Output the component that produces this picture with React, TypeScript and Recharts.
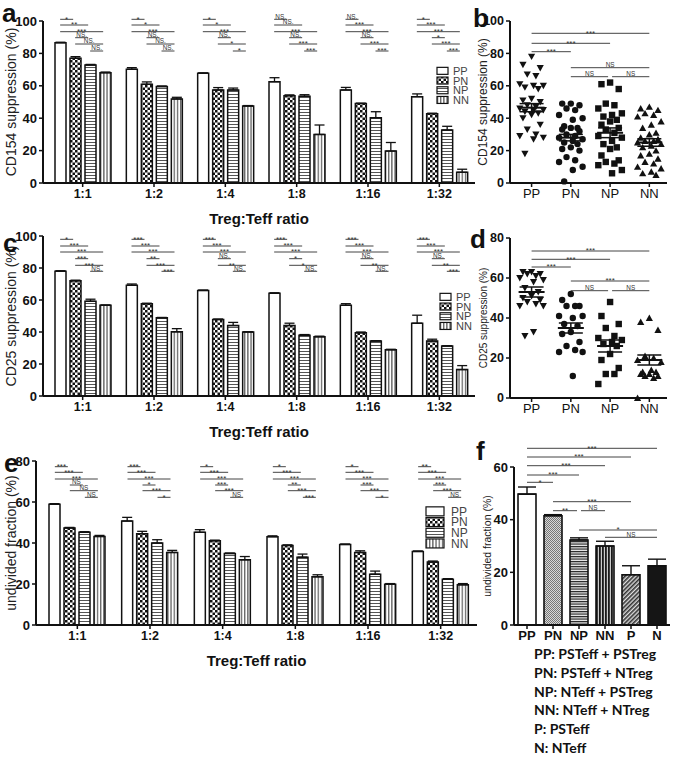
import React from 'react';
import {
  BarChart,
  Bar,
  XAxis,
  YAxis,
  ErrorBar,
  ScatterChart,
  Scatter,
  Legend,
  Cell,
} from 'recharts';

const FONT = '"Liberation Sans", Arial, sans-serif';

const ratios = ['1:1', '1:2', '1:4', '1:8', '1:16', '1:32'];
const groupNames = ['PP', 'PN', 'NP', 'NN'];

// a: CD154 suppression (%) by Treg:Teff ratio
const cd154PP = [86.6, 70.2, 67.7, 62.5, 57.4, 53.3];
const cd154PN = [77, 60.9, 57.4, 53.9, 49, 42.8];
const cd154NP = [72.8, 59.5, 57.4, 53.5, 40.3, 32.7];
const cd154NN = [68.1, 51.9, 47.5, 30, 19.7, 6.6];
const cd154PPErr = [0.3, 1, 0.3, 2.5, 1.6, 1.7];
const cd154PNErr = [1, 1.5, 1.5, 0.5, 0.3, 0.3];
const cd154NPErr = [0.4, 0.4, 1.2, 1, 3.7, 2.3];
const cd154NNErr = [0.4, 1, 0.3, 5.8, 5.3, 1.9];

// c: CD25 suppression (%)
const cd25PP = [78, 69.2, 66, 64.2, 56.7, 45.5];
const cd25PN = [72, 57.6, 47.8, 44, 39.5, 34.3];
const cd25NP = [59.2, 48.9, 44, 38, 34.3, 31.2];
const cd25NN = [56.7, 40.1, 40, 37, 28.9, 16.5];
const cd25PPErr = [0.3, 0.8, 0.2, 0.3, 1, 5];
const cd25PNErr = [0.4, 0.4, 0.3, 1.5, 0.5, 1.2];
const cd25NPErr = [1.3, 0.2, 2, 0.4, 0.3, 0.2];
const cd25NNErr = [0.2, 2, 0.2, 0.4, 0.3, 2.5];

// e: undivided fraction (%)
const undivPP = [58.9, 50.7, 45.2, 43.1, 39.3, 35.9];
const undivPN = [47.3, 44.5, 41.1, 38.8, 35.4, 30.7];
const undivNP = [45.2, 40, 34.9, 33.1, 24.8, 22.3];
const undivNN = [43.2, 35.4, 31.8, 23.5, 19.9, 19.6];
const undivPPErr = [0.3, 1.8, 1.3, 0.4, 0.2, 0.2];
const undivPNErr = [0.3, 1.2, 0.3, 0.3, 0.8, 0.5];
const undivNPErr = [0.3, 1.6, 0.2, 1.5, 1.5, 0.3];
const undivNNErr = [0.5, 1, 1.6, 1, 0.3, 0.6];

// b: CD154 suppression, individual donors
const bPP = [78, 73, 71, 67, 66, 61, 60, 60, 59, 58, 52, 51, 50, 48, 47, 46, 45, 45, 44, 43, 42, 40, 36, 33, 30, 29, 28, 27, 18];
const bPN = [49, 49, 48, 46, 45, 42, 40, 39, 35, 34, 34, 33, 32, 30, 29, 28, 27, 26, 25, 24, 22, 21, 20, 16, 14, 13, 10, 8, 1];
const bNP = [62, 61, 58, 49, 48, 46, 43, 42, 41, 39, 38, 36, 34, 33, 31, 29, 28, 26, 24, 22, 21, 17, 14, 13, 12, 11, 8, 6];
const bNN = [47, 46, 45, 43, 42, 41, 38, 36, 34, 31, 30, 28, 27, 26, 26, 25, 24, 23, 22, 20, 18, 17, 15, 13, 12, 10, 9, 7, 6, 5];
const bMeans = [46.5, 28, 31, 25];
const bSems = [2.5, 2, 3, 2.3];

// d: CD25 suppression, individual donors
const dPP = [63, 63, 62, 62, 61, 60, 59, 58, 55, 53, 51, 50, 49, 48, 47, 46, 46, 33, 31];
const dPN = [52, 49, 46, 46, 46, 41, 41, 40, 37, 36, 33, 32, 28, 26, 24, 23, 23, 11];
const dNP = [48, 41, 37, 35, 31, 30, 29, 28, 27, 26, 22, 19, 15, 12, 12, 7];
const dNN = [40, 38, 34, 21, 20, 19, 18, 14, 13, 13, 12, 12, 11, 11, 10, 0];
const dMeans = [53, 35, 26, 19];
const dSems = [2.5, 2.5, 3, 2.5];

// f: undivided fraction incl. Teff alone
const fCats = ['PP', 'PN', 'NP', 'NN', 'P', 'N'];
const fVals = [49.7, 41.5, 32.3, 30, 19.1, 22.5];
const fErr = [2.7, 0.4, 0.8, 1.8, 3.4, 2.5];
const fFills = ['#fff', 'url(#f-pn)', 'url(#f-np)', 'url(#f-nn)', 'url(#f-p)', '#151515'];

// significance labels, comparisons in order PP-PN, PP-NP, PP-NN, PN-NP, PN-NN, NP-NN
const sigA = [
  ['*', '**', '***', 'NS.', 'NS.', 'NS.'],
  ['*', '*', '***', 'NS.', 'NS.', 'NS.'],
  ['*', '*', '***', 'NS.', '*', '*'],
  ['NS.', 'NS.', '***', 'NS.', '***', '***'],
  ['NS.', '***', '***', 'NS.', '***', '***'],
  ['*', '***', '***', '*', '***', '***'],
];
const sigC = [
  ['*', '***', '***', '***', '***', 'NS.'],
  ['***', '***', '***', '**', '***', '***'],
  ['***', '***', '***', 'NS.', '**', 'NS.'],
  ['***', '***', '***', '*', '*', 'NS.'],
  ['***', '***', '***', 'NS.', '**', 'NS.'],
  ['***', '***', '***', 'NS.', '**', '***'],
];
const sigE = [
  ['***', '***', '***', 'NS', 'NS', 'NS'],
  ['***', '***', '***', '*', '***', '*'],
  ['*', '***', '***', '***', '***', 'NS'],
  ['*', '***', '***', '**', '***', '***'],
  ['*', '***', '***', '***', '***', '*'],
  ['**', '***', '***', '***', '***', 'NS'],
];
const sigB = [
  { i: 0, j: 3, row: 0, label: '***' },
  { i: 0, j: 2, row: 1, label: '***' },
  { i: 0, j: 1, row: 2, label: '***' },
  { i: 1, j: 3, row: 3, label: 'NS' },
  { i: 1, j: 2, row: 4, label: 'NS' },
  { i: 2, j: 3, row: 4, label: 'NS' },
];
const sigD = [
  { i: 0, j: 3, row: 0, label: '***' },
  { i: 0, j: 2, row: 1, label: '***' },
  { i: 0, j: 1, row: 2, label: '***' },
  { i: 1, j: 3, row: 3, label: '***' },
  { i: 1, j: 2, row: 4, label: 'NS' },
  { i: 2, j: 3, row: 4, label: 'NS' },
];
const sigF = [
  { i: 0, j: 5, row: 0, label: '***' },
  { i: 0, j: 4, row: 1, label: '***' },
  { i: 0, j: 3, row: 2, label: '***' },
  { i: 0, j: 2, row: 3, label: '***' },
  { i: 0, j: 1, row: 4, label: '*' },
  { i: 1, j: 4, row: 5, label: '***' },
  { i: 1, j: 2, row: 6, label: '**' },
  { i: 2, j: 3, row: 6, label: 'NS' },
  { i: 2, j: 5, row: 7, label: '*' },
  { i: 3, j: 5, row: 8, label: 'NS' },
];

const captionLines = [
  'PP: PSTeff + PSTreg',
  'PN: PSTeff + NTreg',
  'NP: NTeff + PSTreg',
  'NN: NTeff + NTreg',
  'P: PSTeff',
  'N: NTeff',
];

const pairIdx = [[0, 1], [0, 2], [0, 3], [1, 2], [1, 3], [2, 3]];
const jitter = [0, -0.22, 0.22, -0.11, 0.11, -0.3, 0.3, 0.05, -0.17, 0.17];
const axisStyle = { stroke: '#111', strokeWidth: 2 };

function toRows(vals: number[][], errs: number[][]) {
  return ratios.map((r, i) => {
    const row: any = { ratio: r };
    groupNames.forEach((g, k) => {
      row[g] = vals[k][i];
      row[g + 'e'] = [0, errs[k][i]];
    });
    return row;
  });
}

function PatternDefs() {
  return (
    <svg width={0} height={0} style={{ position: 'absolute' }}>
      <defs>
        <pattern id="p-pp" width={4} height={4} patternUnits="userSpaceOnUse">
          <rect width={4} height={4} fill="#fff" />
        </pattern>
        <pattern id="p-pn" width={5} height={5} patternUnits="userSpaceOnUse">
          <rect width={5} height={5} fill="#fff" />
          <rect width={2.5} height={2.5} fill="#111" />
          <rect x={2.5} y={2.5} width={2.5} height={2.5} fill="#111" />
        </pattern>
        <pattern id="p-np" width={4} height={3} patternUnits="userSpaceOnUse">
          <rect width={4} height={3} fill="#fff" />
          <rect y={1} width={4} height={1} fill="#555" />
        </pattern>
        <pattern id="p-nn" width={3.2} height={4} patternUnits="userSpaceOnUse">
          <rect width={3.2} height={4} fill="#fff" />
          <rect x={1} width={1} height={4} fill="#333" />
        </pattern>
        <pattern id="f-pn" width={2} height={2} patternUnits="userSpaceOnUse">
          <rect width={2} height={2} fill="#d8d8d8" />
          <rect width={1} height={1} fill="#777" />
          <rect x={1} y={1} width={1} height={1} fill="#777" />
        </pattern>
        <pattern id="f-np" width={4} height={2.5} patternUnits="userSpaceOnUse">
          <rect width={4} height={2.5} fill="#eee" />
          <rect width={4} height={1.2} fill="#222" />
        </pattern>
        <pattern id="f-nn" width={3} height={4} patternUnits="userSpaceOnUse">
          <rect width={3} height={4} fill="#ccc" />
          <rect width={1.8} height={4} fill="#1a1a1a" />
        </pattern>
        <pattern id="f-p" width={3} height={3} patternUnits="userSpaceOnUse" patternTransform="rotate(45)">
          <rect width={3} height={3} fill="#ddd" />
          <rect width={1.6} height={3} fill="#333" />
        </pattern>
      </defs>
    </svg>
  );
}

function PatternKey({ rowH, swW, swH, fontSize, gap }: any) {
  return (
    <svg width={48} height={rowH * 4} style={{ display: 'block' }}>
      {groupNames.map((g, k) => (
        <g key={g}>
          <rect
            x={1}
            y={k * rowH + (rowH - swH) / 2}
            width={swW}
            height={swH}
            fill={`url(#p-${g.toLowerCase()})`}
            stroke="#111"
            strokeWidth={1.2}
          />
          <text
            x={1 + swW + gap}
            y={k * rowH + rowH / 2 + fontSize * 0.36}
            fontSize={fontSize}
            fill="#444"
            fontFamily={FONT}
          >
            {g}
          </text>
        </g>
      ))}
    </svg>
  );
}

function GroupedBars({ rows, top, plotTop, plotH, yAxisW, padL, yMax, yTicks, yLabel, legend }: any) {
  const width = 480;
  const plotW = yAxisW === 43 ? 432 : 441;
  return (
    <div style={{ position: 'absolute', left: 0, top }}>
      <BarChart
        width={width}
        height={plotTop + plotH + 47}
        data={rows}
        margin={{ top: plotTop, right: width - yAxisW - plotW, left: 0, bottom: 0 }}
        barGap={4}
      >
        <XAxis
          dataKey="ratio"
          padding={{ left: padL, right: 0 }}
          height={47}
          axisLine={axisStyle}
          tickLine={{ stroke: '#111', strokeWidth: 1.5 }}
          tickSize={4}
          tick={{ fontSize: 12.5, fontWeight: 700, fill: '#111' }}
          label={{
            value: 'Treg:Teff ratio',
            position: 'insideBottom',
            offset: 6,
            style: { fontSize: 15, fontWeight: 700, fill: '#111' },
          }}
        />
        <YAxis
          type="number"
          domain={[0, yMax]}
          ticks={yTicks}
          width={yAxisW}
          axisLine={axisStyle}
          tickLine={{ stroke: '#111', strokeWidth: 1.5 }}
          tickSize={4}
          tick={{ fontSize: 13, fontWeight: 700, fill: '#111' }}
          label={{
            value: yLabel,
            angle: -90,
            position: 'insideLeft',
            offset: 11,
            style: { textAnchor: 'middle', fontSize: 14, fill: '#222' },
          }}
        />
        {groupNames.map((g) => (
          <Bar
            key={g}
            dataKey={g}
            barSize={11}
            fill={`url(#p-${g.toLowerCase()})`}
            stroke="#111"
            strokeWidth={1.5}
            isAnimationActive={false}
          >
            <ErrorBar dataKey={g + 'e'} width={5} stroke="#111" strokeWidth={1.3} direction="y" />
          </Bar>
        ))}
        <Legend
          layout="horizontal"
          verticalAlign="middle"
          align="center"
          wrapperStyle={{ position: 'absolute', left: legend.x, top: legend.y, width: 48 }}
          content={() => <PatternKey {...legend} />}
        />
      </BarChart>
    </div>
  );
}

const shapeDown = (p: any) => (
  <polygon points={`${p.cx - 3.6},${p.cy - 3} ${p.cx + 3.6},${p.cy - 3} ${p.cx},${p.cy + 3.4}`} fill="#111" />
);
const shapeCircle = (p: any) => <circle cx={p.cx} cy={p.cy} r={3.2} fill="#111" />;
const shapeSquare = (p: any) => <rect x={p.cx - 3.2} y={p.cy - 3.2} width={6.4} height={6.4} fill="#111" />;
const shapeUp = (p: any) => (
  <polygon points={`${p.cx - 3.6},${p.cy + 3} ${p.cx + 3.6},${p.cy + 3} ${p.cx},${p.cy - 3.4}`} fill="#111" />
);
const dotShapes = [shapeDown, shapeCircle, shapeSquare, shapeUp];
const meanShape = (p: any) => (
  <line x1={p.cx - 13} x2={p.cx + 13} y1={p.cy} y2={p.cy} stroke="#111" strokeWidth={2} />
);

function DotPanel({ top, plotH, yMax, yTicks, yLabel, labelSize, sets, means, sems }: any) {
  const series = sets.map((vals: number[], g: number) =>
    vals.map((v, k) => ({ x: g + 1 + jitter[k % jitter.length], y: v }))
  );
  const meanRows = means.map((m: number, g: number) => ({ x: g + 1, y: m, sem: sems[g] }));
  return (
    <div style={{ position: 'absolute', left: 470, top }}>
      <ScatterChart width={205} height={21 + plotH + 24} margin={{ top: 21, right: 8, left: 0, bottom: 0 }}>
        <XAxis
          type="number"
          dataKey="x"
          domain={[0.45, 4.45]}
          ticks={[1, 2, 3, 4]}
          tickFormatter={(v) => groupNames[Math.round(v) - 1]}
          height={24}
          axisLine={axisStyle}
          tickLine={{ stroke: '#111', strokeWidth: 1.5 }}
          tickSize={4}
          tick={{ fontSize: 13, fill: '#111' }}
        />
        <YAxis
          type="number"
          dataKey="y"
          domain={[0, yMax]}
          ticks={yTicks}
          width={40}
          axisLine={axisStyle}
          tickLine={{ stroke: '#111', strokeWidth: 1.5 }}
          tickSize={4}
          tick={{ fontSize: 12.5, fontWeight: 700, fill: '#111' }}
          label={{
            value: yLabel,
            angle: -90,
            position: 'insideLeft',
            offset: 13,
            style: { textAnchor: 'middle', fontSize: labelSize, fill: '#222' },
          }}
        />
        {series.map((pts: any[], g: number) => (
          <Scatter key={g} data={pts} shape={dotShapes[g]} isAnimationActive={false} />
        ))}
        <Scatter data={meanRows} shape={meanShape} isAnimationActive={false}>
          <ErrorBar dataKey="sem" direction="y" width={12} stroke="#111" strokeWidth={1.5} />
        </Scatter>
      </ScatterChart>
    </div>
  );
}

function FractionBars() {
  const rows = fCats.map((c, i) => ({ cat: c, v: fVals[i], e: [0, fErr[i]] }));
  return (
    <div style={{ position: 'absolute', left: 470, top: 446 }}>
      <BarChart
        width={205}
        height={21 + 158 + 24}
        data={rows}
        margin={{ top: 21, right: 5, left: 0, bottom: 0 }}
        barCategoryGap={4}
      >
        <XAxis
          dataKey="cat"
          height={24}
          axisLine={axisStyle}
          tickLine={{ stroke: '#111', strokeWidth: 1.5 }}
          tickSize={4}
          tick={{ fontSize: 13, fontWeight: 700, fill: '#111' }}
          interval={0}
        />
        <YAxis
          type="number"
          domain={[0, 60]}
          ticks={[0, 20, 40, 60]}
          width={44}
          axisLine={axisStyle}
          tickLine={{ stroke: '#111', strokeWidth: 1.5 }}
          tickSize={4}
          tick={{ fontSize: 13, fontWeight: 700, fill: '#111' }}
          label={{
            value: 'undivided fraction (%)',
            angle: -90,
            position: 'insideLeft',
            offset: 17,
            style: { textAnchor: 'middle', fontSize: 10.5, fill: '#222' },
          }}
        />
        <Bar dataKey="v" barSize={18} stroke="#111" strokeWidth={1.6} isAnimationActive={false}>
          {rows.map((r, i) => (
            <Cell key={r.cat} fill={fFills[i]} />
          ))}
          <ErrorBar dataKey="e" width={9} stroke="#111" strokeWidth={1.4} direction="y" />
        </Bar>
      </BarChart>
    </div>
  );
}

function Bracket({ x1, x2, y, label, fs }: any) {
  const star = label.indexOf('*') >= 0;
  return (
    <g>
      <line x1={x1} x2={x2} y1={y} y2={y} stroke="#444" strokeWidth={1} />
      <text
        x={(x1 + x2) / 2}
        y={star ? y + fs * 0.3 : y - 0.8}
        fontSize={star ? fs : fs * 0.8}
        textAnchor="middle"
        fill="#333"
        fontFamily={FONT}
      >
        {label}
      </text>
    </g>
  );
}

function barBrackets(key: string, plotLeft: number, plotW: number, padL: number, rowYs: number[], sig: string[][]) {
  const band = (plotW - padL) / 6;
  const out: any[] = [];
  sig.forEach((labels, g) => {
    const gc = plotLeft + padL + band * (g + 0.5);
    labels.forEach((lab, k) => {
      const [i, j] = pairIdx[k];
      out.push(
        <Bracket
          key={`${key}-${g}-${k}`}
          x1={gc + (i - 1.5) * 15}
          x2={gc + (j - 1.5) * 15 - 2}
          y={rowYs[k]}
          label={lab}
          fs={8}
        />
      );
    });
  });
  return out;
}

function catBrackets(key: string, center: (i: number) => number, rowYs: number[], sig: any[]) {
  return sig.map((s, n) => {
    const sameRow = sig.filter((o) => o.row === s.row).length > 1;
    const x1 = center(s.i) + (sameRow && sig.some((o) => o.row === s.row && o.j === s.i) ? 2 : 0);
    const x2 = center(s.j) - (sameRow && sig.some((o) => o.row === s.row && o.i === s.j) ? 2 : 0);
    return <Bracket key={`${key}-${n}`} x1={x1} x2={x2} y={rowYs[s.row]} label={s.label} fs={8} />;
  });
}

function Overlay() {
  const dotCenter = (i: number) => 510 + (i + 1 - 0.45) * 39.25;
  const fCenter = (i: number) => 514 + 26 * (i + 0.5);
  const letter = { fontSize: 26, fontWeight: 700, fill: '#111', fontFamily: FONT } as any;
  return (
    <svg
      width={675}
      height={759}
      style={{ position: 'absolute', left: 0, top: 0, pointerEvents: 'none' }}
    >
      <text x={2} y={22} {...letter}>a</text>
      <text x={473} y={27} {...letter}>b</text>
      <text x={3} y={252} {...letter}>c</text>
      <text x={470} y={248} {...letter}>d</text>
      <text x={4} y={472} {...letter}>e</text>
      <text x={476} y={460} {...letter}>f</text>
      {barBrackets('a', 43, 432, 4, [19.3, 25, 31.7, 37.7, 44, 51], sigA)}
      {barBrackets('c', 43, 432, 4, [239.3, 246, 252, 258.7, 265.3, 271.3], sigC)}
      {barBrackets('e', 36, 441, 5, [466.7, 472.3, 479, 485, 490.7, 497.3], sigE)}
      {catBrackets('b', dotCenter, [33.3, 43.3, 51.7, 67.7, 76.7], sigB)}
      {catBrackets('d', dotCenter, [251, 259.3, 267, 281, 290.7], sigD)}
      {catBrackets('f', fCenter, [448.3, 457, 465.7, 475, 482.3, 501.7, 510.7, 530, 537.3], sigF)}
    </svg>
  );
}

export default function App() {
  return (
    <div
      style={{
        position: 'relative',
        width: 675,
        height: 759,
        background: '#fff',
        fontFamily: FONT,
        overflow: 'hidden',
      }}
    >
      <style>{'body{margin:0}'}</style>
      <PatternDefs />
      <GroupedBars
        rows={toRows([cd154PP, cd154PN, cd154NP, cd154NN], [cd154PPErr, cd154PNErr, cd154NPErr, cd154NNErr])}
        top={0}
        plotTop={21}
        plotH={162}
        yAxisW={43}
        padL={4}
        yMax={100}
        yTicks={[0, 20, 40, 60, 80, 100]}
        yLabel="CD154 suppression (%)"
        legend={{ x: 436, y: 66, rowH: 9.7, swW: 11, swH: 7, fontSize: 11, gap: 5 }}
      />
      <GroupedBars
        rows={toRows([cd25PP, cd25PN, cd25NP, cd25NN], [cd25PPErr, cd25PNErr, cd25NPErr, cd25NNErr])}
        top={215}
        plotTop={21}
        plotH={160}
        yAxisW={43}
        padL={4}
        yMax={100}
        yTicks={[0, 20, 40, 60, 80, 100]}
        yLabel="CD25 suppression (%)"
        legend={{ x: 439, y: 77, rowH: 9.7, swW: 11, swH: 7, fontSize: 11, gap: 5 }}
      />
      <GroupedBars
        rows={toRows([undivPP, undivPN, undivNP, undivNN], [undivPPErr, undivPNErr, undivNPErr, undivNNErr])}
        top={440}
        plotTop={21}
        plotH={164}
        yAxisW={36}
        padL={5}
        yMax={80}
        yTicks={[0, 20, 40, 60, 80]}
        yLabel="undivided fraction (%)"
        legend={{ x: 425, y: 66, rowH: 10.7, swW: 18, swH: 9, fontSize: 12, gap: 7 }}
      />
      <DotPanel
        top={0}
        plotH={162}
        yMax={100}
        yTicks={[0, 20, 40, 60, 80, 100]}
        yLabel="CD154 suppression (%)"
        labelSize={12}
        sets={[bPP, bPN, bNP, bNN]}
        means={bMeans}
        sems={bSems}
      />
      <DotPanel
        top={217}
        plotH={160}
        yMax={80}
        yTicks={[0, 20, 40, 60, 80]}
        yLabel="CD25 suppression (%)"
        labelSize={10}
        sets={[dPP, dPN, dNP, dNN]}
        means={dMeans}
        sems={dSems}
      />
      <FractionBars />
      <Overlay />
      <div
        style={{
          position: 'absolute',
          left: 534,
          top: 645,
          fontFamily: 'Lato, "Open Sans", sans-serif',
          fontWeight: 700,
          fontSize: 14,
          lineHeight: '18.8px',
          color: '#111',
          whiteSpace: 'nowrap',
        }}
      >
        {captionLines.map((t) => (
          <div key={t}>{t}</div>
        ))}
      </div>
    </div>
  );
}
